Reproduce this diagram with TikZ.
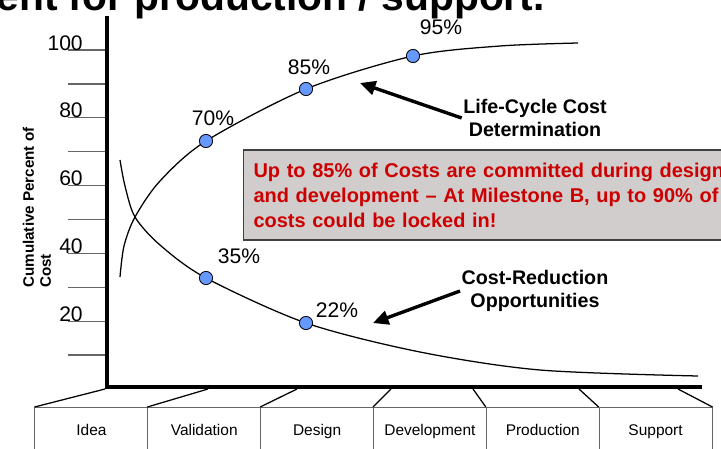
\documentclass[tikz,border=0pt]{standalone}
\usepackage{fontspec}
\setmainfont{Liberation Sans}
\usetikzlibrary{arrows.meta}
\definecolor{dotblue}{RGB}{102,153,255}
\definecolor{notegray}{RGB}{209,205,205}
\definecolor{notered}{RGB}{204,0,0}
\begin{document}
\begin{tikzpicture}[x=0.025cm, y=-0.025cm,
    pct/.style={font=\fontsize{15}{18}\selectfont, inner sep=0pt},
    dot/.style={circle, draw, fill=dotblue, inner sep=0pt, minimum size=0.33cm, line width=0.6pt},
    curve/.style={line width=0.9pt},
    tick/.style={draw=black!60, line width=0.9pt},
    slant/.style={line width=0.9pt},
    pointer/.style={line width=2.4pt, -{Triangle[length=11pt,width=10pt]}},
    callout/.style={font=\bfseries\fontsize{14}{16.4}\selectfont, align=center, inner sep=1pt},
    phase/.style={draw=black!60, line width=0.7pt, minimum width=2.8208cm, minimum height=1.2cm,
      anchor=north, font=\fontsize{11}{13}\selectfont, inner sep=0pt,
      text height=0.72em, text depth=0.2em}]
  \useasboundingbox (0,0) rectangle (721,448);
  \clip (0,0) rectangle (721,448);
  \node[font=\bfseries\fontsize{29}{31}\selectfont, anchor=base east, inner sep=0pt] (title) at (545,10) {ent for production / support.};

  \node[rotate=90, align=left, anchor=west, font=\bfseries\fontsize{10.8}{12}\selectfont, inner sep=0pt] (ylab) at (37,288) {Cumulative Percent of\\Cost};
  \foreach \t in {0,...,9}
    \draw[tick] (68,{50+33.9*\t}) -- (106,{50+33.9*\t});
  \foreach \v [count=\k from 0] in {100,80,60,40,20}
    \node[pct, anchor=base east] (y\v) at (83,{50+67.8*\k}) {\v};

  \foreach \lbl [count=\i from 0] in {Idea,Validation,Design,Development,Production,Support}
    \node[phase] (ph\i) at ({35+112.83*(\i+0.5)},407) {\lbl};
  \foreach \i/\tx in {0/105,1/208,2/297,3/391,4/473,5/579}
    \draw[slant] (ph\i.north west) -- (\tx,389);
  \draw[slant] (ph5.north east) -- (678,389);

  \draw[line width=2.85pt] (107,16) -- (107,387) -- (702,387);

  \node[draw=black!75, fill=notegray, line width=0.8pt, anchor=west, minimum height=2.25cm,
    text width=13cm, align=left, inner xsep=0.25cm, text=notered,
    font=\bfseries\fontsize{14.2}{17.8}\selectfont] (note) at (243,195)
    {Up to 85\% of Costs are committed during design\\and development -- At Milestone B, up to 90\% of\\costs could be locked in!};

  \coordinate (p70) at (206,141);
  \coordinate (p85) at (306,89);
  \coordinate (p95) at (413,56);
  \coordinate (p35) at (206,278);
  \coordinate (p22) at (306,323);
  \draw[curve] plot[smooth] coordinates {(120,277) (124,246) (135,217) (160,181) (p70) (p85) (p95) (500,46) (578,43)};
  \draw[curve] plot[smooth] coordinates {(120,160) (125,186) (135,217) (160,245) (p35) (p22) (420,352) (540,370) (698,376)};
  \foreach \p in {70,85,95,35,22}
    \node[dot] (d\p) at (p\p) {};

  \node[pct] (l95) at (441,27) {95\%};
  \node[pct] (l85) at (309,67) {85\%};
  \node[pct] (l70) at (213,118) {70\%};
  \node[pct] (l35) at (239,256) {35\%};
  \node[pct] (l22) at (337,310) {22\%};

  \node[callout] (lcc) at (535,118) {Life-Cycle Cost\\Determination};
  \node[callout] (crx) at (535,291) {Cost-Reduction\\Opportunities};
  \coordinate (lccTip) at (360,83);
  \coordinate (crxTip) at (373,323);
  \draw[pointer] (lcc.west) -- (lccTip);
  \draw[pointer] (crx.west) -- (crxTip);
\end{tikzpicture}
\end{document}
